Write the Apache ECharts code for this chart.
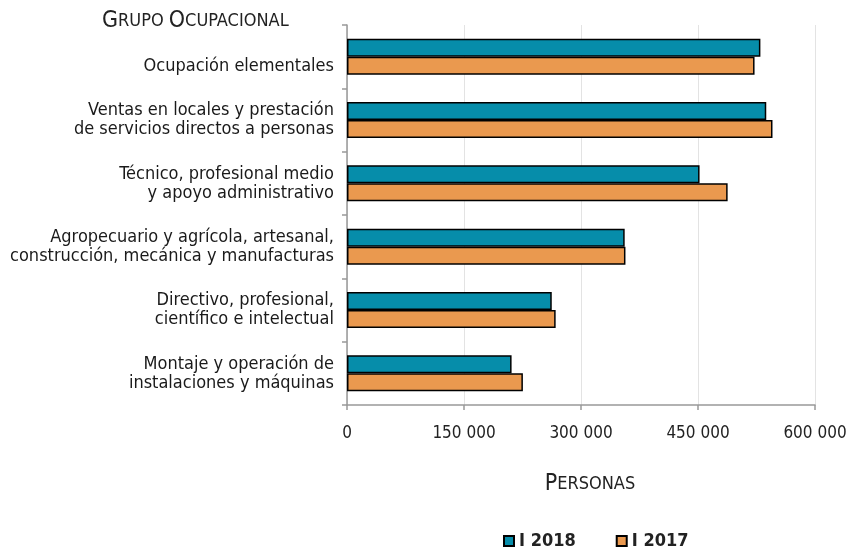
<!DOCTYPE html>
<html>
<head>
<meta charset="utf-8" />
<script src="https://cdn.jsdelivr.net/npm/echarts@6/dist/echarts.min.js"></script>
<style>
  html, body { margin: 0; padding: 0; background: #fff; }
  #main { width: 855px; height: 553px; }
</style>
</head>
<body>
<div id="main"></div>
<script type="text/javascript">
	// categorias (de arriba hacia abajo)
	var categorias = [
		'Ocupación elementales',
		'Ventas en locales y prestación\nde servicios directos a personas',
		'Técnico, profesional medio\ny apoyo administrativo',
		'Agropecuario y agrícola, artesanal,\nconstrucción, mecánica y manufacturas',
		'Directivo, profesional,\ncientífico e intelectual',
		'Montaje y operación de\ninstalaciones y máquinas'
	];
	var datos2018 = [530000, 537500, 452000, 356000, 262500, 211000];
	var datos2017 = [522500, 545500, 488000, 357000, 267500, 225500];
	var ticksX = [0, 150000, 300000, 450000, 600000];

	var fuente = '"DejaVu Sans Condensed", "Liberation Sans Narrow", sans-serif';

	var myChart = echarts.init(document.getElementById('main'));

	// versalitas hechas a mano con texto enriquecido
	var versalitas = {
		a: { fontSize: 23, fontFamily: fuente, fontWeight: 'normal', color: '#222' },
		b: { fontSize: 18, fontFamily: fuente, fontWeight: 'normal', color: '#222' }
	};

	var option = {
		animation: false,
		textStyle: { fontFamily: fuente },
		title: [{
			left: 97, top: 5,
			text: '{a|G}{b|RUPO }{a|O}{b|CUPACIONAL}',
			textStyle: { fontWeight: 'normal', rich: versalitas }
		}, {
			left: 585, top: 468, textAlign: 'center',
			text: '{a|P}{b|ERSONAS}',
			textStyle: { fontWeight: 'normal', rich: versalitas }
		}],
		legend: {
			top: 527, left: 498,
			itemWidth: 10, itemHeight: 10, itemGap: 40,
			icon: 'rect',
			textStyle: { fontSize: 18, fontWeight: 'bold', color: '#222', fontFamily: fuente },
			data: ['I 2018', 'I 2017']
		},
		grid: { left: 347, right: 40, top: 25, bottom: 148, containLabel: false },
		xAxis: {
			type: 'value',
			min: ticksX[0], max: ticksX[ticksX.length - 1], interval: 150000,
			axisLine: { show: true, lineStyle: { color: '#999', width: 1.5 } },
			axisTick: { show: true, length: 5, lineStyle: { color: '#999', width: 1.5 } },
			splitLine: { show: true, lineStyle: { color: '#e3e3e3', width: 1 } },
			axisLabel: {
				color: '#222', fontSize: 17, margin: 20,
				formatter: function (v) {
					return String(v).replace(/\B(?=(\d{3})+(?!\d))/g, ' ');
				}
			}
		},
		yAxis: {
			type: 'category',
			inverse: true,
			data: categorias,
			axisLine: { show: true, lineStyle: { color: '#999', width: 1.5 } },
			axisTick: { show: true, length: 5, lineStyle: { color: '#999', width: 1.5 } },
			axisLabel: {
				color: '#1a1a1a', fontSize: 18, lineHeight: 19, margin: 13, align: 'right',
				padding: [4, 0, 0, 0],
				// las etiquetas de una sola linea se dibujan en la segunda linea
				formatter: function (v) {
					return v.indexOf('\n') < 0 ? '\n' + v : v;
				}
			}
		},
		series: [{
			name: 'I 2018',
			type: 'bar',
			barWidth: 18,
			barGap: '0%',
			itemStyle: { color: '#068DAA', borderColor: '#000', borderWidth: 1.5 },
			data: datos2018
		}, {
			name: 'I 2017',
			type: 'bar',
			barWidth: 18,
			barGap: '0%',
			itemStyle: { color: '#EA994F', borderColor: '#000', borderWidth: 1.5 },
			data: datos2017
		}]
	};

	myChart.setOption(option);
</script>
</body>
</html>
